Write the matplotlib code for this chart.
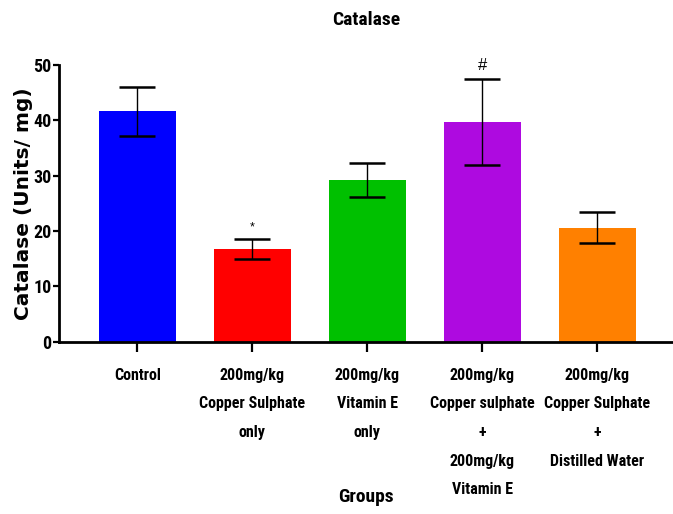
import matplotlib
matplotlib.use("Agg")
from matplotlib import pyplot as plt
from matplotlib import font_manager


# group labels, mean catalase activity and error (units/mg)
groups = ["Control",
          "200mg/kg\nCopper Sulphate\nonly",
          "200mg/kg\nVitamin E\nonly",
          "200mg/kg\nCopper sulphate\n+\n200mg/kg\nVitamin E",
          "200mg/kg\nCopper Sulphate\n+\nDistilled Water"]
catalase = [41.6, 16.7, 29.2, 39.7, 20.6]
errors = [4.5, 1.8, 3.1, 7.8, 2.8]
marks = ["", "*", "", "#", ""]
colours = ["#0000FF", "#FF0000", "#00C000", "#AE0AE0", "#FF8000"]
yticks = [0, 10, 20, 30, 40, 50]


def narrowBold():
  '''Look for a condensed bold sans face, None if there is none'''
  found = []
  for f in font_manager.fontManager.ttflist:
    tag = (f.name + " " + f.fname).lower()
    bold = f.weight in ("bold", 700, 600, 800) or "bold" in tag
    thin = ("narrow" in tag or "condensed" in tag or
            f.stretch in ("condensed", "semi-condensed", "extra-condensed"))
    if bold and thin and "italic" not in tag and "oblique" not in tag:
      found.append(f)
  if not found:
    return None
  order = ["liberation sans narrow", "arial narrow", "roboto condensed",
           "dejavu sans condensed", "dejavu"]
  def rank(f):
    tag = (f.name + " " + f.fname).lower()
    for i, o in enumerate(order):
      if o in tag.replace("-", " ").replace("_", " "):
        return i
    return len(order)
  found.sort(key=rank)
  return found[0].fname


path = narrowBold()
def face(size):
  if path:
    return font_manager.FontProperties(fname=path, size=size)
  return font_manager.FontProperties(family="Liberation Sans",
                                     weight="bold", size=size * 0.85)


fig = plt.figure(figsize=(6.73, 5.14), dpi=100)
ax = fig.add_axes([0.0877, 0.3356, 0.9123, 0.5379])

x = range(len(groups))
ax.bar(x, catalase, width=0.67, color=colours, zorder=1)
ax.errorbar(x, catalase, yerr=errors, fmt="none", ecolor="black",
            elinewidth=1.0, capsize=13, capthick=1.8, zorder=2)

# significance marks above the error caps
for i, m in enumerate(marks):
  if m:
    ax.annotate(m, (i, catalase[i] + errors[i]), xytext=(0, 4),
                textcoords="offset points", ha="center", va="bottom",
                fontsize=9 if m == "*" else 12, family="Liberation Sans")

ax.set_xlim(-0.68, 4.66)
ax.set_ylim(0, 50)
ax.set_yticks(yticks)
ax.set_xticks(list(x))
ax.set_xticklabels(groups, fontproperties=face(11.5), linespacing=2.13)
ax.set_yticklabels([str(t) for t in yticks], fontproperties=face(13))

for side in ["top", "right"]:
  ax.spines[side].set_visible(False)
for side in ["left", "bottom"]:
  ax.spines[side].set_linewidth(2)
ax.tick_params(axis="y", length=4.5, width=1.6, pad=1)
ax.tick_params(axis="x", length=7, width=1.6, pad=12)

ax.set_ylabel("Catalase (Units/ mg)", family="DejaVu Sans",
              fontweight="bold", fontsize=14.5, labelpad=0)
fig.text(0.544, 0.961, "Catalase", ha="center", va="center",
         fontproperties=face(14))
fig.text(0.544, 0.033, "Groups", ha="center", va="center",
         fontproperties=face(14))

fig.savefig("out.png", dpi=100)
